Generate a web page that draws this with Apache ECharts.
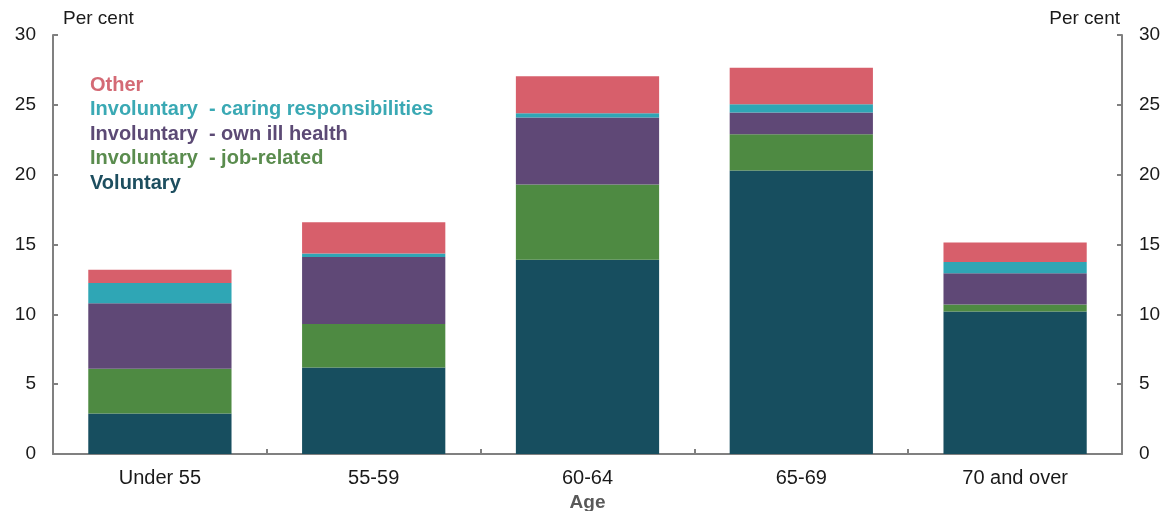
<!DOCTYPE html>
<html>
<head>
<meta charset="utf-8">
<script src="https://cdn.jsdelivr.net/npm/echarts@6/dist/echarts.min.js"></script>
<style>html,body{margin:0;padding:0;background:#fff;}#c{width:1169px;height:511px;}</style>
</head>
<body>
<div id="c"></div>
<script>
const categories = ['Under 55', '55-59', '60-64', '65-69', '70 and over'];
const voluntary = [2.9, 6.2, 13.9, 20.3, 10.2];
const jobRelated = [3.2, 3.1, 5.4, 2.6, 0.5];
const illHealth = [4.7, 4.8, 4.8, 1.55, 2.25];
const caring = [1.45, 0.25, 0.3, 0.6, 0.8];
const other = [0.95, 2.25, 2.65, 2.6, 1.4];
const yTicks = [0, 5, 10, 15, 20, 25, 30];

const names = ['Voluntary', 'Involuntary  - job-related', 'Involuntary  - own ill health', 'Involuntary  - caring responsibilities', 'Other'];
const colors = ['#174e5f', '#4e8a42', '#5f4876', '#2fa6b5', '#d75f6b'];
const textColors = ['#1d4e5f', '#5a8c4e', '#5c4a75', '#3aa9b4', '#d46a75'];
const seriesData = [voluntary, jobRelated, illHealth, caring, other];

const font = 'Liberation Sans, Arial, sans-serif';
const axisColor = '#808080';

const chart = echarts.init(document.getElementById('c'), null, {renderer: 'canvas'});

const yAxisCommon = {
  type: 'value', min: 0, max: 30, interval: 5,
  axisLine: {show: true, lineStyle: {color: axisColor, width: 2}},
  axisTick: {show: true, inside: true, length: 5, lineStyle: {color: axisColor, width: 2}},
  splitLine: {show: false},
  axisLabel: {color: '#1a1a1a', fontSize: 19, fontFamily: font, margin: 17,
    formatter: v => yTicks.includes(v) ? String(v) : ''},
  nameLocation: 'end', nameGap: 7,
  nameTextStyle: {color: '#1a1a1a', fontSize: 19, fontFamily: font}
};

chart.setOption({
  animation: false,
  backgroundColor: '#ffffff',
  grid: {left: 53, right: 47, top: 35, bottom: 57, containLabel: false, outerBoundsMode: 'none'},
  legend: {
    orient: 'vertical', left: 85, top: 70, itemGap: 4.5, itemWidth: 0, itemHeight: 18,
    icon: 'none', selectedMode: false,
    textStyle: {fontSize: 20, lineHeight: 20, fontWeight: 'bold', fontFamily: font, padding: [0,0,0,-5]},
    data: names.slice().reverse().map((n, i) => ({name: n, textStyle: {color: textColors[4 - i]}}))
  },
  xAxis: {
    type: 'category', data: categories,
    name: 'Age', nameLocation: 'middle', nameGap: 36,
    nameTextStyle: {color: '#595959', fontSize: 19, fontWeight: 'bold', fontFamily: font},
    axisLine: {show: true, lineStyle: {color: axisColor, width: 2}},
    axisTick: {show: true, inside: true, length: 5, alignWithLabel: false, lineStyle: {color: axisColor, width: 2}},
    axisLabel: {color: '#1a1a1a', fontSize: 20, fontFamily: font, margin: 14}
  },
  yAxis: [
    Object.assign({}, yAxisCommon, {position: 'left', name: 'Per cent',
      nameTextStyle: Object.assign({}, yAxisCommon.nameTextStyle, {align: 'left', padding: [0, 0, 0, 10]})}),
    Object.assign({}, yAxisCommon, {position: 'right', name: 'Per cent',
      nameTextStyle: Object.assign({}, yAxisCommon.nameTextStyle, {align: 'right', padding: [0, 2, 0, 0]})})
  ],
  series: seriesData.map((d, i) => ({
    name: names[i], type: 'bar', stack: 'total', data: d,
    barCategoryGap: '33%',
    itemStyle: {color: colors[i]},
    emphasis: {disabled: true}
  }))
});
</script>
</body>
</html>
